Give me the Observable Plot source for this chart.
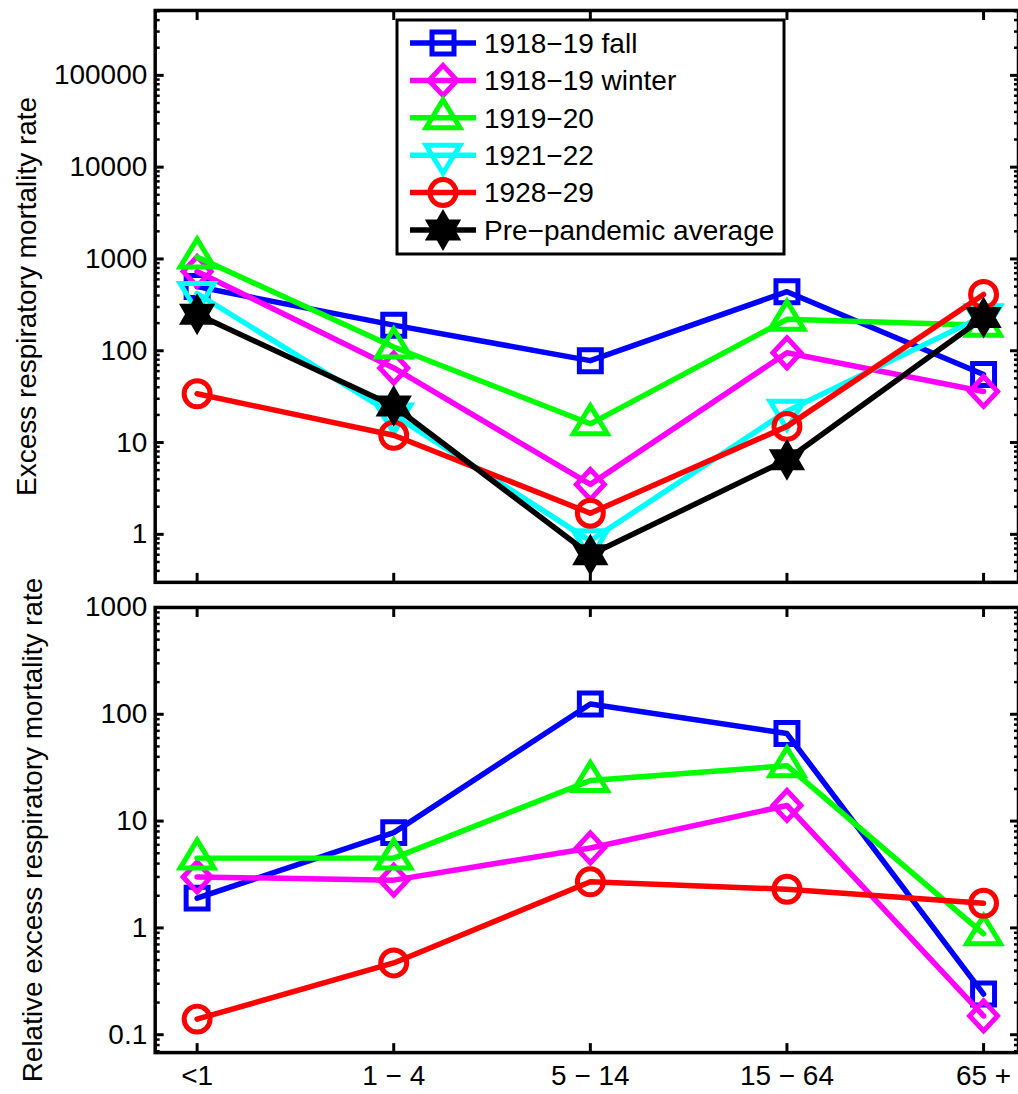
<!DOCTYPE html>
<html><head><meta charset="utf-8">
<script src="https://cdn.jsdelivr.net/npm/d3@7"></script>
<script src="https://cdn.jsdelivr.net/npm/@observablehq/plot@0.6"></script>
<style>
html,body{margin:0;padding:0;background:#fff;overflow:hidden}
#chart{position:relative;width:1018px;height:1094px;overflow:hidden;font-family:"Liberation Sans",Arial,Helvetica,sans-serif;color:#000}
#chart svg{position:absolute;left:0;overflow:visible}
#chart svg text{font-size:28px;font-family:"Liberation Sans",Arial,Helvetica,sans-serif}
</style></head><body><div id="chart"></div>
<script>
// ---- data ----
const ageGroups = ["<1", "1 − 4", "5 − 14", "15 − 64", "65 +"];
const seriesNames = ["1918−19 fall", "1918−19 winter", "1919−20", "1921−22", "1928−29", "Pre−pandemic average"];
const seriesColors = ["#0000ff", "#ff00ff", "#00ff00", "#00ffff", "#ff0000", "#000000"];

// top panel: excess respiratory mortality rate
const excessFall1918   = [500, 190, 78, 440, 55];
const excessWinter1918 = [730, 65, 3.5, 95, 36];
const excess1919       = [1050, 110, 16, 220, 190];
const excess1921       = [420, 20, 0.85, 22, 240];
const excess1928       = [34, 12, 1.7, 15, 410];
const excessPrePandemic = [250, 25, 0.6, 6.5, 230];

// bottom panel: relative excess respiratory mortality rate
const relFall1918   = [1.9, 7.8, 125, 66, 0.24];
const relWinter1918 = [3.0, 2.8, 5.6, 14, 0.15];
const rel1919       = [4.5, 4.5, 24, 33, 0.88];
const rel1928       = [0.14, 0.47, 2.7, 2.3, 1.7];

const topTickValues = [1, 10, 100, 1000, 10000, 100000];
const bottomTickValues = [0.1, 1, 10, 100, 1000];
const topYLabel = "Excess respiratory mortality rate";
const bottomYLabel = "Relative excess respiratory mortality rate";

// ---- marker shapes (MATLAB-like) ----
function polygon(pts) {
  return {draw(ctx) {
    ctx.moveTo(pts[0][0], pts[0][1]);
    for (let i = 1; i < pts.length; i++) ctx.lineTo(pts[i][0], pts[i][1]);
    ctx.closePath();
  }};
}
const symSquare = polygon([[-11,-11],[11,-11],[11,11],[-11,11]]);
const symDiamond = polygon([[0,-15],[14,0],[0,15],[-14,0]]);
const symTriUp = polygon([[0,-18],[17,10],[-17,10]]);
const symTriDown = polygon([[0,18],[17,-10],[-17,-10]]);
const symCircle = {draw(ctx) { ctx.moveTo(13, 0); ctx.arc(0, 0, 13, 0, 2 * Math.PI); ctx.closePath(); }};
const symHexagram = polygon(d3.range(12).map(k => {
  const a = -Math.PI / 2 + k * Math.PI / 6;
  const rr = k % 2 === 0 ? 16 : 16 / Math.sqrt(3);
  return [rr * Math.cos(a), rr * Math.sin(a)];
}));
const seriesSymbols = [symSquare, symDiamond, symTriUp, symTriDown, symCircle, symHexagram];
const seriesFills = ["none", "none", "none", "none", "none", "#000000"];

function minorTicks(lo, hi) {
  const out = [];
  for (let e = -3; e <= 7; e++) for (let k = 2; k <= 9; k++) {
    const v = k * Math.pow(10, e);
    if (v >= lo && v <= hi) out.push(+v.toPrecision(3));
  }
  return out;
}

function panel({height, marginTop, marginBottom, domain, major, series, xLabels, yLabel, labelDx}) {
  const minor = minorTicks(domain[0], domain[1]);
  const marks = [
    Plot.frame({stroke: "black", strokeWidth: 3.5}),
    Plot.axisY(major, {anchor: "left", tickSize: 9, dx: 9, fill: "none", label: null, strokeWidth: 3}),
    Plot.axisY(minor, {anchor: "left", tickSize: 5, dx: 5, fill: "none", label: null, strokeWidth: 2.5}),
    Plot.axisY(major, {anchor: "right", tickSize: 9, dx: -9, fill: "none", label: null, strokeWidth: 3}),
    Plot.axisY(minor, {anchor: "right", tickSize: 5, dx: -5, fill: "none", label: null, strokeWidth: 2.5}),
    Plot.axisY(major, {anchor: "left", tickSize: 0, tickPadding: 8, tickFormat: d => String(d), label: null, fontSize: 28}),
    Plot.axisX({anchor: "bottom", tickSize: 9, dy: -9, fill: "none", label: null, strokeWidth: 3}),
    Plot.axisX({anchor: "top", tickSize: 9, dy: 9, fill: "none", label: null, strokeWidth: 3}),
    Plot.text([yLabel], {frameAnchor: "left", textAnchor: "middle", lineAnchor: "middle", dx: labelDx, rotate: -90, fontSize: 28, text: d => d, fill: "black"})
  ];
  if (xLabels) marks.push(Plot.axisX({anchor: "bottom", tickSize: 0, tickPadding: 13, label: null, fontSize: 28}));
  series.forEach(s => {
    const data = ageGroups.map((g, i) => ({group: g, value: s.values[i]}));
    marks.push(Plot.line(data, {x: "group", y: "value", stroke: s.color, strokeWidth: 5.5, strokeLinejoin: "round"}));
    marks.push(Plot.dot(data, {x: "group", y: "value", stroke: s.color, strokeWidth: 5, fill: s.fill, symbol: s.symbol, r: 10}));
  });
  return Plot.plot({
    width: 1020, height, marginLeft: 155, marginRight: 0, marginTop, marginBottom,
    x: {type: "point", domain: ageGroups, range: [195, 986], padding: 0, axis: null},
    y: {type: "log", domain, axis: null},
    style: {fontFamily: "Liberation Sans, Arial, Helvetica, sans-serif", fontSize: "28px", color: "black", background: "transparent", overflow: "visible"},
    marks
  });
}

const topValues = [excessFall1918, excessWinter1918, excess1919, excess1921, excess1928, excessPrePandemic];
const topSeries = topValues.map((v, i) => ({values: v, color: seriesColors[i], symbol: seriesSymbols[i], fill: seriesFills[i]}));
const relValues = [relFall1918, relWinter1918, rel1919, rel1928];
const relIdx = [0, 1, 2, 4];
const bottomSeries = relValues.map((v, j) => ({values: v, color: seriesColors[relIdx[j]], symbol: seriesSymbols[relIdx[j]], fill: seriesFills[relIdx[j]]}));

const chartEl = document.getElementById("chart");
const topPanel = panel({height: 600, marginTop: 10, marginBottom: 17, domain: [0.30, 509000], major: topTickValues,
  series: topSeries, xLabels: false, yLabel: topYLabel, labelDx: -128});
topPanel.style.top = "0px";
chartEl.appendChild(topPanel);

const bottomPanel = panel({height: 499, marginTop: 12, marginBottom: 41, domain: [0.068, 1000], major: bottomTickValues,
  series: bottomSeries, xLabels: true, yLabel: bottomYLabel, labelDx: -122});
bottomPanel.style.top = "595px";
chartEl.appendChild(bottomPanel);

// ---- legend overlay ----
const leg = d3.select(chartEl).append("svg")
  .attr("width", 1018).attr("height", 300)
  .style("top", "0px").style("pointer-events", "none");
leg.append("rect").attr("x", 397).attr("y", 20).attr("width", 387).attr("height", 234)
  .attr("fill", "white").attr("stroke", "black").attr("stroke-width", 3);
seriesNames.forEach((name, i) => {
  const cy = 43 + i * 37.4;
  const g = leg.append("g");
  g.append("line").attr("x1", 410).attr("x2", 476).attr("y1", cy).attr("y2", cy)
    .attr("stroke", seriesColors[i]).attr("stroke-width", 5.5);
  g.append("path").attr("transform", `translate(443,${cy})`)
    .attr("d", d3.symbol(seriesSymbols[i], 100)())
    .attr("fill", seriesFills[i]).attr("stroke", seriesColors[i]).attr("stroke-width", 5);
  g.append("text").attr("x", 484).attr("y", cy).attr("dy", "0.35em")
    .attr("fill", "black").text(name);
});
</script></body></html>
